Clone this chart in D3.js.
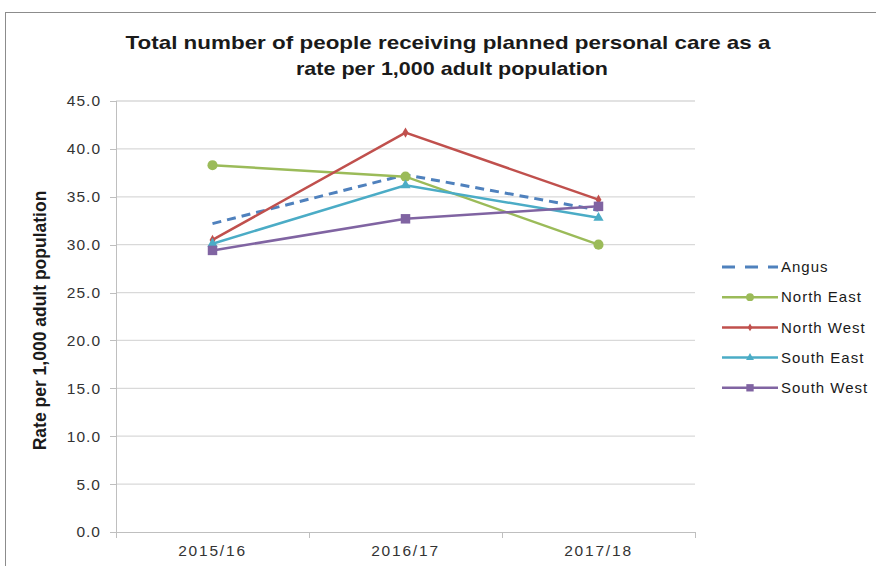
<!doctype html>
<html>
<head>
<meta charset="utf-8">
<title>Planned personal care rate</title>
<script src="https://cdn.jsdelivr.net/npm/d3@7"></script>
<style>
body { margin: 0; background: #fff; font-family: "Liberation Sans", Arial, sans-serif; }
.grid line { stroke: #d9d9d9; stroke-width: 1.3px; }
.axis path, .axis line { stroke: #bfbfbf; shape-rendering: crispEdges; }
.axis text { fill: #333; font-size: 15.5px; letter-spacing: 1px; }
.x.axis text { letter-spacing: 1.8px; }
</style>
</head>
<body>
<script>
var years = ["2015/16", "2016/17", "2017/18"];
var yTicks = [0, 5, 10, 15, 20, 25, 30, 35, 40, 45];
var angus = [32.2, 37.3, 33.6];
var northEast = [38.3, 37.1, 30.0];
var northWest = [30.5, 41.7, 34.7];
var southEast = [30.1, 36.2, 32.8];
var southWest = [29.4, 32.7, 34.0];

var series = [
    { name: "Angus", values: angus, color: "#4f81bd", dash: "9,6", marker: null },
    { name: "North East", values: northEast, color: "#9bbb59", marker: "circle" },
    { name: "North West", values: northWest, color: "#c0504d", marker: "diamond" },
    { name: "South East", values: southEast, color: "#4bacc6", marker: "triangle" },
    { name: "South West", values: southWest, color: "#8064a2", marker: "square" }
];

var W = 876, H = 566;
var margin = { top: 101, left: 116, right: 181, bottom: 34 };
var width = W - margin.left - margin.right,
    height = H - margin.top - margin.bottom;

var svg = d3.select("body").append("svg")
    .attr("width", W)
    .attr("height", H);

// chart frame
svg.append("rect")
    .attr("x", 5.5).attr("y", 12.5)
    .attr("width", 900).attr("height", 600)
    .attr("fill", "none")
    .attr("stroke", "#8c8c8c");

svg.append("text")
    .attr("x", 448).attr("y", 49)
    .attr("text-anchor", "middle")
    .attr("textLength", 645).attr("lengthAdjust", "spacingAndGlyphs")
    .style("font-size", "19px").style("font-weight", "bold").style("fill", "#1a1a1a")
    .text("Total number of people receiving planned personal care as a");
svg.append("text")
    .attr("x", 452).attr("y", 75)
    .attr("text-anchor", "middle")
    .attr("textLength", 312).attr("lengthAdjust", "spacingAndGlyphs")
    .style("font-size", "19px").style("font-weight", "bold").style("fill", "#1a1a1a")
    .text("rate per 1,000 adult population");

var g = svg.append("g")
    .attr("transform", "translate(" + margin.left + "," + margin.top + ")");

var x = d3.scaleBand().domain(years).range([0, width]);
var y = d3.scaleLinear().domain([0, 45]).range([height, 0]);

g.append("g").attr("class", "grid")
    .selectAll("line")
    .data(yTicks.filter(function(d) { return d > 0; }))
    .enter().append("line")
    .attr("x1", 0).attr("x2", width)
    .attr("y1", function(d) { return y(d); })
    .attr("y2", function(d) { return y(d); });

var yAxis = g.append("g").attr("class", "y axis")
    .call(d3.axisLeft(y).tickValues(yTicks).tickFormat(d3.format(".1f")).tickSize(6).tickPadding(9));
yAxis.select(".domain").remove();
yAxis.append("line").attr("x1", 0).attr("x2", 0).attr("y1", 0).attr("y2", height)
    .attr("stroke", "#bfbfbf");

var xAxis = g.append("g").attr("class", "x axis")
    .attr("transform", "translate(0," + height + ")")
    .call(d3.axisBottom(x).tickSize(0).tickPadding(13));
xAxis.select(".domain").attr("d", "M0,0.5H" + width);
xAxis.selectAll(".sep")
    .data(d3.range(years.length + 1))
    .enter().append("line")
    .attr("class", "sep")
    .attr("x1", function(i) { return i * x.step(); })
    .attr("x2", function(i) { return i * x.step(); })
    .attr("y1", 0).attr("y2", 6);

var line = d3.line()
    .x(function(d, i) { return x(years[i]) + x.bandwidth() / 2; })
    .y(function(d) { return y(d); });

var symbolType = {
    circle: d3.symbolCircle,
    diamond: d3.symbolDiamond,
    triangle: d3.symbolTriangle,
    square: d3.symbolSquare
};
var symbolSize = { circle: 80, diamond: 30, triangle: 45, square: 90 };

series.forEach(function(s) {
    g.append("path")
        .attr("d", line(s.values))
        .attr("fill", "none")
        .attr("stroke", s.color)
        .attr("stroke-width", s.dash ? 3 : 2.5)
        .attr("stroke-dasharray", s.dash || null);
    if (s.marker) {
        g.selectAll(null)
            .data(s.values)
            .enter().append("path")
            .attr("transform", function(d, i) {
                return "translate(" + line.x()(d, i) + "," + y(d) + ")";
            })
            .attr("d", d3.symbol().type(symbolType[s.marker]).size(symbolSize[s.marker]))
            .attr("fill", s.color);
    }
});

// y label
svg.append("text")
    .attr("transform", "translate(46," + (margin.top + height / 2 + 4) + ") rotate(-90)")
    .attr("text-anchor", "middle")
    .style("font-size", "17.5px").style("font-weight", "bold").style("fill", "#1a1a1a")
    .text("Rate per 1,000 adult population");

// legend
var legend = svg.append("g").attr("transform", "translate(722,267)");
var rows = legend.selectAll("g")
    .data(series)
    .enter().append("g")
    .attr("transform", function(d, i) { return "translate(0," + i * 30.2 + ")"; });
rows.append("line")
    .attr("x1", 0).attr("x2", 56)
    .attr("stroke", function(d) { return d.color; })
    .attr("stroke-width", function(d) { return d.dash ? 3 : 2.5; })
    .attr("stroke-dasharray", function(d) { return d.dash ? "13,10" : null; });
rows.filter(function(d) { return d.marker; })
    .append("path")
    .attr("transform", "translate(28,0)")
    .attr("d", function(d) { return d3.symbol().type(symbolType[d.marker]).size(symbolSize[d.marker] * 0.6)(); })
    .attr("fill", function(d) { return d.color; });
rows.append("text")
    .attr("x", 59).attr("dy", "0.35em")
    .style("font-size", "15px").style("letter-spacing", "1px").style("fill", "#1a1a1a")
    .text(function(d) { return d.name; });
</script>
</body>
</html>
